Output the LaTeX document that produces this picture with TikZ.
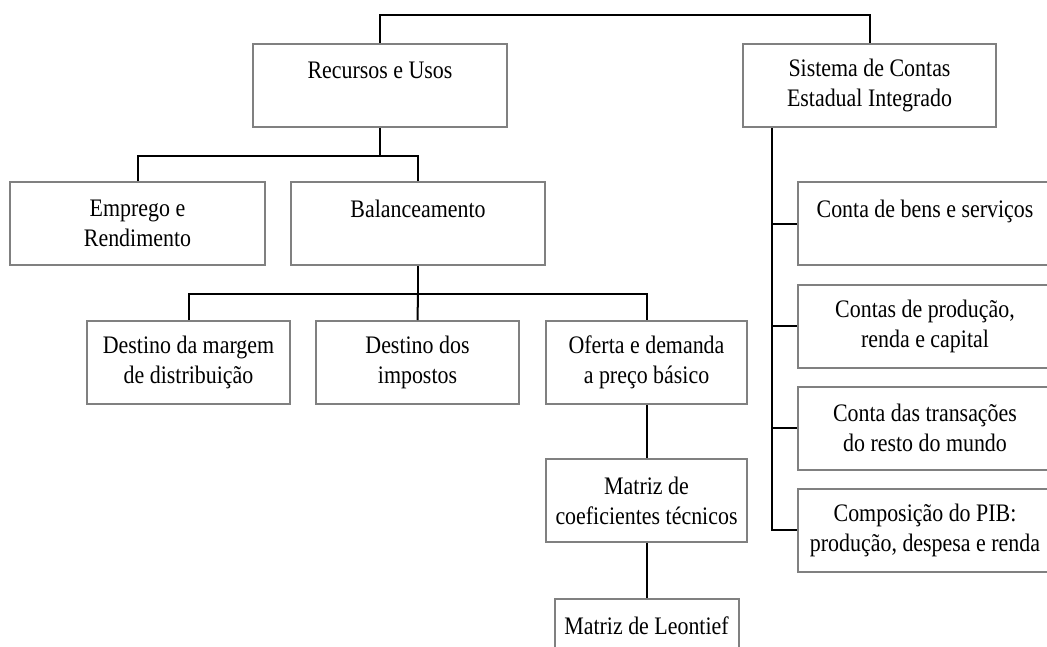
\documentclass[tikz,border=0pt]{standalone}
\usepackage{fontspec}
\setmainfont{Liberation Serif}[FakeStretch=0.87]
\begin{document}
\begin{tikzpicture}[x=1pt,y=-1pt,
  box/.style={draw=boxgray, line width=2pt, rectangle, inner sep=0pt,
    minimum height=83pt, align=center,
    font=\fontsize{25.2}{30}\selectfont},
  link/.style={draw=black, line width=2pt}]
\definecolor{boxgray}{HTML}{808080}
\useasboundingbox (0,0) rectangle (1047,646);
\clip (0,0) rectangle (1047,646);
% nodes
\node[box, minimum width=254pt] (ru) at (380,85.5) {Recursos e Usos\\\mbox{}};
\node[box, minimum width=253pt] (sc) at (869.5,85.5) {Sistema de Contas\\Estadual Integrado};
\node[box, minimum width=255pt] (er) at (137.5,223.5) {Emprego e\\Rendimento};
\node[box, minimum width=254pt] (bal) at (418,223.5) {Balanceamento\\\mbox{}};
\node[box, minimum width=203pt] (dm) at (188.5,362.5) {Destino da margem\\de distribuição};
\node[box, minimum width=203pt] (di) at (417.5,362.5) {Destino dos\\impostos};
\node[box, minimum width=201pt] (od) at (646.5,362.5) {Oferta e demanda\\a preço básico};
\node[box, minimum width=201pt] (mc) at (646.5,500.5) {Matriz de\\coeficientes técnicos};
\node[box, minimum width=184pt] (ml) at (646.5,640.5) {Matriz de Leontief\\\mbox{}};
\node[box, minimum width=254pt] (cb) at (925,223.5) {Conta de bens e serviços\\\mbox{}};
\node[box, minimum width=254pt] (cp) at (925,326) {Contas de produção,\\renda e capital};
\node[box, minimum width=254pt] (ct) at (925,428) {Conta das transações\\do resto do mundo};
\node[box, minimum width=254pt] (co) at (925,530) {Composição do PIB:\\produção, despesa e renda};
% connectors
\draw[link] (ru.north) -- ++(0,-28) -| (sc.north);
\draw[link] (ru.south) -- ++(0,28) coordinate (j1) -| (er.north);
\draw[link] (j1) -| (bal.north);
\draw[link] (bal.south) -- ++(0,28) coordinate (j2);
\draw[link] (dm.north) |- (j2) -| (od.north);
\draw[link] (j2) -- (di.north);
\draw[link] (od.south) -- (mc.north);
\draw[link] (mc.south) -- (ml.north);
\coordinate (s0) at ([xshift=30pt]sc.south west);
\draw[link] (s0) |- (co.west);
\draw[link] (s0 |- cb.west) -- (cb.west);
\draw[link] (s0 |- cp.west) -- (cp.west);
\draw[link] (s0 |- ct.west) -- (ct.west);
\end{tikzpicture}
\end{document}
